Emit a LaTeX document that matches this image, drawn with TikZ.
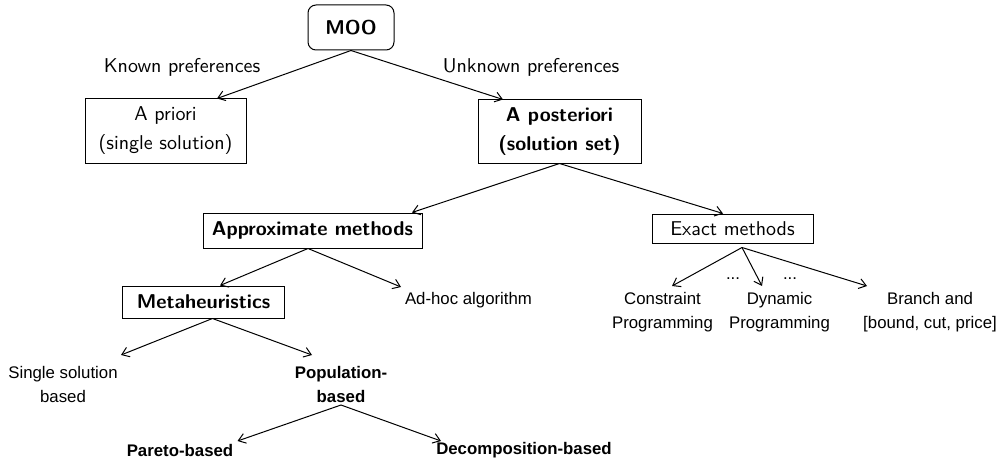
\documentclass[tikz,border=0pt]{standalone}
\usepackage{fontspec}
\usetikzlibrary{calc,arrows.meta}
\newfontfamily\leaffont{Liberation Sans}
\begin{document}
\begin{tikzpicture}[x=0.5pt,y=-0.5pt,
  every node/.style={font=\sffamily\fontsize{10}{14.5}\selectfont, align=center, inner sep=0pt},
  box/.style={draw, line width=0.5pt},
  rbox/.style={box, rounded corners=4pt},
  leaf/.style={font=\leaffont\fontsize{8.4}{12}\selectfont},
  arr/.style={line width=0.5pt, -{Straight Barb[length=3.5pt,width=5pt]}}]
\useasboundingbox (0,0) rectangle (1000,460);

% --- boxed categories
\node[rbox, minimum width=43pt, minimum height=22.5pt] (moo) at (351,27.5) {\bfseries MOO};
\node (known) at (182,67) {Known preferences};
\node (unknown) at (531,67) {Unknown preferences};
\node[box, minimum width=80.5pt, minimum height=32pt] (apriori) at (165.5,131) {A priori\\(single solution)};
\node[box, minimum width=81.5pt, minimum height=31.5pt] (apost) at (559.5,131.5) {\bfseries A posteriori\\\bfseries (solution set)};
\node[box, minimum width=109.5pt, minimum height=17.5pt] (approx) at (312.5,230.5) {\bfseries Approximate methods};
\node[box, minimum width=80.5pt, minimum height=14.5pt] (exact) at (732.5,228.5) {Exact methods};
\node[box, minimum width=81pt, minimum height=16pt] (meta) at (203.5,302) {\bfseries Metaheuristics};

% --- leaves
\node[leaf] (adhoc) at (468.5,300) {Ad-hoc algorithm};
\node[leaf] (cp) at (662.5,312.5) {Constraint\\Programming};
\node[leaf] (dp) at (779.5,312.5) {Dynamic\\Programming};
\node[leaf] (bb) at (930,312.5) {Branch and\\{[}bound, cut, price{]}};
\node[leaf] (dotsa) at (733,279) {...};
\node[leaf] (dotsb) at (790,279) {...};
\node[leaf] (single) at (63,384) {Single solution\\based};
\node[leaf] (pop) at (341,384) {\bfseries Population-\\\bfseries based};
\node[leaf] (pareto) at (180,450) {\bfseries Pareto-based};
\node[leaf] (decomp) at (524,450) {\bfseries Decomposition-based};

% --- connectors
\draw[arr] (moo.south) -- ($(apriori.north)+(51.5,0)$);
\draw[arr] (moo.south) -- ($(apost.north)+(-56.5,0)$);
\draw[arr] (apost.south) -- ($(approx.north)+(99.5,0)$);
\draw[arr] (apost.south) -- ($(exact.north)+(-9.5,0)$);
\draw[arr] ($(approx.south)+(-4.5,0)$) -- ($(meta.north)+(16.5,0)$);
\draw[arr] ($(approx.south)+(-4.5,0)$) -- ($(adhoc)+(-67.5,-13)$);
\draw[arr] ($(exact.south)+(9.5,4)$) -- ($(cp)+(9.5,-26.5)$);
\draw[arr] ($(exact.south)+(9.5,4)$) -- ($(dp)+(-17.5,-26.5)$);
\draw[arr] ($(exact.south)+(9.5,4)$) -- ($(bb)+(-63,-26.5)$);
\draw[arr] ($(meta.south)+(9,0)$) -- ($(single)+(58,-29)$);
\draw[arr] ($(meta.south)+(9,0)$) -- ($(pop)+(-29,-29)$);
\draw[arr] ($(pop)+(0,21)$) -- ($(pareto)+(57.5,-9)$);
\draw[arr] ($(pop)+(0,21)$) -- ($(decomp)+(-83,-9)$);
\end{tikzpicture}
\end{document}
